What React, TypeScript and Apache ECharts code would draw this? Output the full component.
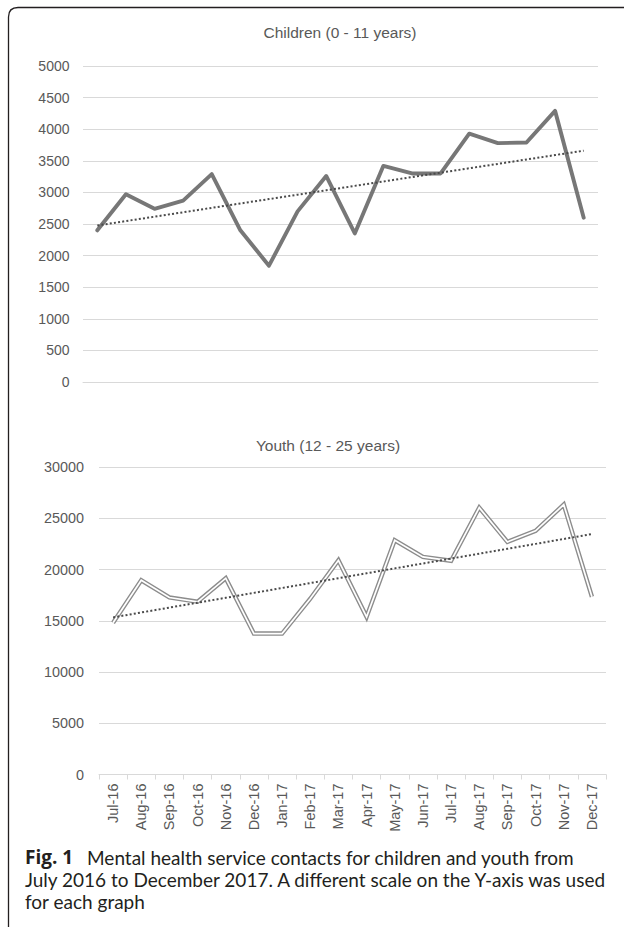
import React, { useEffect, useRef } from "react";
import * as echarts from "echarts";

// ---------- data ----------
const months = [
  "Jul-16", "Aug-16", "Sep-16", "Oct-16", "Nov-16", "Dec-16",
  "Jan-17", "Feb-17", "Mar-17", "Apr-17", "May-17", "Jun-17",
  "Jul-17", "Aug-17", "Sep-17", "Oct-17", "Nov-17", "Dec-17",
];
const childrenContacts = [
  2400, 2970, 2740, 2870, 3290, 2400, 1840, 2700, 3260, 2350, 3420, 3300,
  3300, 3930, 3780, 3790, 4290, 2600,
];
const youthContacts = [
  14800, 18950, 17270, 16850, 19150, 13750, 13750, 17150, 20900, 15380,
  22850, 21230, 20850, 26040, 22690, 23770, 26330, 17340,
];
const childrenAxis = { min: 0, max: 5000, interval: 500 };
const youthAxis = { min: 0, max: 30000, interval: 5000 };
const childrenTitle = "Children (0 - 11 years)";
const youthTitle = "Youth (12 - 25 years)";
const captionBold = "Fig. 1";
const captionLines = [
  "Mental health service contacts for children and youth from",
  "July 2016 to December 2017. A different scale on the Y-axis was used",
  "for each graph",
];

// linear trendline (least squares), as in the spreadsheet chart
function linearTrend(values: number[]): number[] {
  const n = values.length;
  const xs = values.map((_, i) => i + 1);
  const mx = xs.reduce((a, b) => a + b, 0) / n;
  const my = values.reduce((a, b) => a + b, 0) / n;
  let sxy = 0;
  let sxx = 0;
  for (let i = 0; i < n; i++) {
    sxy += (xs[i] - mx) * (values[i] - my);
    sxx += (xs[i] - mx) * (xs[i] - mx);
  }
  const b = sxy / sxx;
  const a = my - b * mx;
  return xs.map((x) => a + b * x);
}

const FrameShape = echarts.graphic.extendPath(
  "M8.5 930 L8.5 17 Q8.5 7.5 18 7.5 L624 7.5",
  {}
);
echarts.graphic.registerShape("figframe", FrameShape);

const FONT = "'Liberation Sans', Arial, sans-serif";
const CAPTION_FONT = "Lato, 'Open Sans', sans-serif";
const GRID_COLOR = "#d9d9d9";
const LABEL_COLOR = "#595959";
const CAPTION_SIZE = 19;
const CAPTION_COLOR = "#231f20";

function buildOption(): any {
  const yCommon = {
    type: "value",
    axisLine: { show: false },
    axisTick: { show: false },
    splitLine: { lineStyle: { color: GRID_COLOR, width: 1 } },
    axisLabel: {
      color: LABEL_COLOR,
      fontSize: 14,
      fontFamily: FONT,
      formatter: (v: number) => String(v),
    },
  };
  const captionStyle = {
    fill: CAPTION_COLOR,
    font: `${CAPTION_SIZE}px ${CAPTION_FONT}`,
    textVerticalAlign: "middle",
  };
  return {
    animation: false,
    backgroundColor: "#ffffff",
    grid: [
      { left: 83, right: 29, top: 66, height: 316 },
      { left: 99, right: 21, top: 467, height: 307.5 },
    ],
    xAxis: [
      {
        type: "category",
        gridIndex: 0,
        data: months,
        boundaryGap: true,
        axisLine: { show: true, lineStyle: { color: GRID_COLOR, width: 1 } },
        axisTick: { show: false },
        axisLabel: { show: false },
        splitLine: { show: false },
      },
      {
        type: "category",
        gridIndex: 1,
        data: months,
        boundaryGap: true,
        axisLine: { show: true, lineStyle: { color: GRID_COLOR, width: 1 } },
        axisTick: {
          show: true,
          alignWithLabel: false,
          length: 5,
          lineStyle: { color: GRID_COLOR },
        },
        axisLabel: {
          rotate: 90,
          interval: 0,
          margin: 9,
          color: LABEL_COLOR,
          fontSize: 14.5,
          fontFamily: FONT,
        },
        splitLine: { show: false },
      },
    ],
    yAxis: [
      {
        ...yCommon,
        gridIndex: 0,
        min: childrenAxis.min,
        max: childrenAxis.max,
        interval: childrenAxis.interval,
        axisLabel: { ...yCommon.axisLabel, margin: 13.5 },
      },
      {
        ...yCommon,
        gridIndex: 1,
        min: youthAxis.min,
        max: youthAxis.max,
        interval: youthAxis.interval,
        axisLabel: { ...yCommon.axisLabel, fontSize: 14.4, margin: 15 },
      },
    ],
    series: [
      {
        name: "Children",
        type: "line",
        xAxisIndex: 0,
        yAxisIndex: 0,
        data: childrenContacts,
        showSymbol: false,
        symbol: "none",
        lineStyle: { color: "#777777", width: 3.9, join: "round", cap: "round" },
        z: 2,
      },
      {
        name: "Children trend",
        type: "line",
        xAxisIndex: 0,
        yAxisIndex: 0,
        data: linearTrend(childrenContacts),
        symbol: "none",
        lineStyle: { color: "#4a4a4a", width: 2, type: [2, 2.2] },
        z: 3,
      },
      {
        name: "Youth outer",
        type: "line",
        xAxisIndex: 1,
        yAxisIndex: 1,
        data: youthContacts,
        symbol: "none",
        lineStyle: { color: "#8c8c8c", width: 4.4, join: "miter", cap: "butt" },
        z: 2,
      },
      {
        name: "Youth inner",
        type: "line",
        xAxisIndex: 1,
        yAxisIndex: 1,
        data: youthContacts,
        symbol: "none",
        lineStyle: { color: "#ffffff", width: 1.7, join: "miter", cap: "butt" },
        z: 3,
      },
      {
        name: "Youth trend",
        type: "line",
        xAxisIndex: 1,
        yAxisIndex: 1,
        data: linearTrend(youthContacts),
        symbol: "none",
        lineStyle: { color: "#4a4a4a", width: 2, type: [2, 2.2] },
        z: 4,
      },
    ],
    graphic: [
      {
        type: "figframe",
        x: 0,
        y: 0,
        style: { stroke: CAPTION_COLOR, fill: "none", lineWidth: 1.3 },
        silent: true,
      },
      {
        type: "text",
        x: 340,
        y: 32,
        style: {
          text: childrenTitle,
          fill: LABEL_COLOR,
          font: `15.5px ${FONT}`,
          textAlign: "center",
          textVerticalAlign: "middle",
        },
      },
      {
        type: "text",
        x: 328,
        y: 445,
        style: {
          text: youthTitle,
          fill: LABEL_COLOR,
          font: `15.5px ${FONT}`,
          textAlign: "center",
          textVerticalAlign: "middle",
        },
      },
      {
        type: "text",
        x: 25,
        y: 857,
        style: {
          text: captionBold,
          fill: CAPTION_COLOR,
          font: `bold ${CAPTION_SIZE}px 'Open Sans', Lato, sans-serif`,
          textVerticalAlign: "middle",
        },
      },
      {
        type: "text",
        x: 87,
        y: 857,
        style: { ...captionStyle, text: captionLines[0] },
      },
      {
        type: "text",
        x: 25,
        y: 879,
        style: { ...captionStyle, text: captionLines[1] },
      },
      {
        type: "text",
        x: 25,
        y: 901,
        style: { ...captionStyle, text: captionLines[2] },
      },
    ],
  };
}

export default function App() {
  const ref = useRef<HTMLDivElement>(null);
  useEffect(() => {
    document.body.style.margin = "0";
    if (!ref.current) return;
    const chart = echarts.init(ref.current, undefined, { renderer: "svg" });
    chart.setOption(buildOption());
    return () => {
      chart.dispose();
    };
  }, []);
  return <div ref={ref} style={{ width: 627, height: 927 }} />;
}
